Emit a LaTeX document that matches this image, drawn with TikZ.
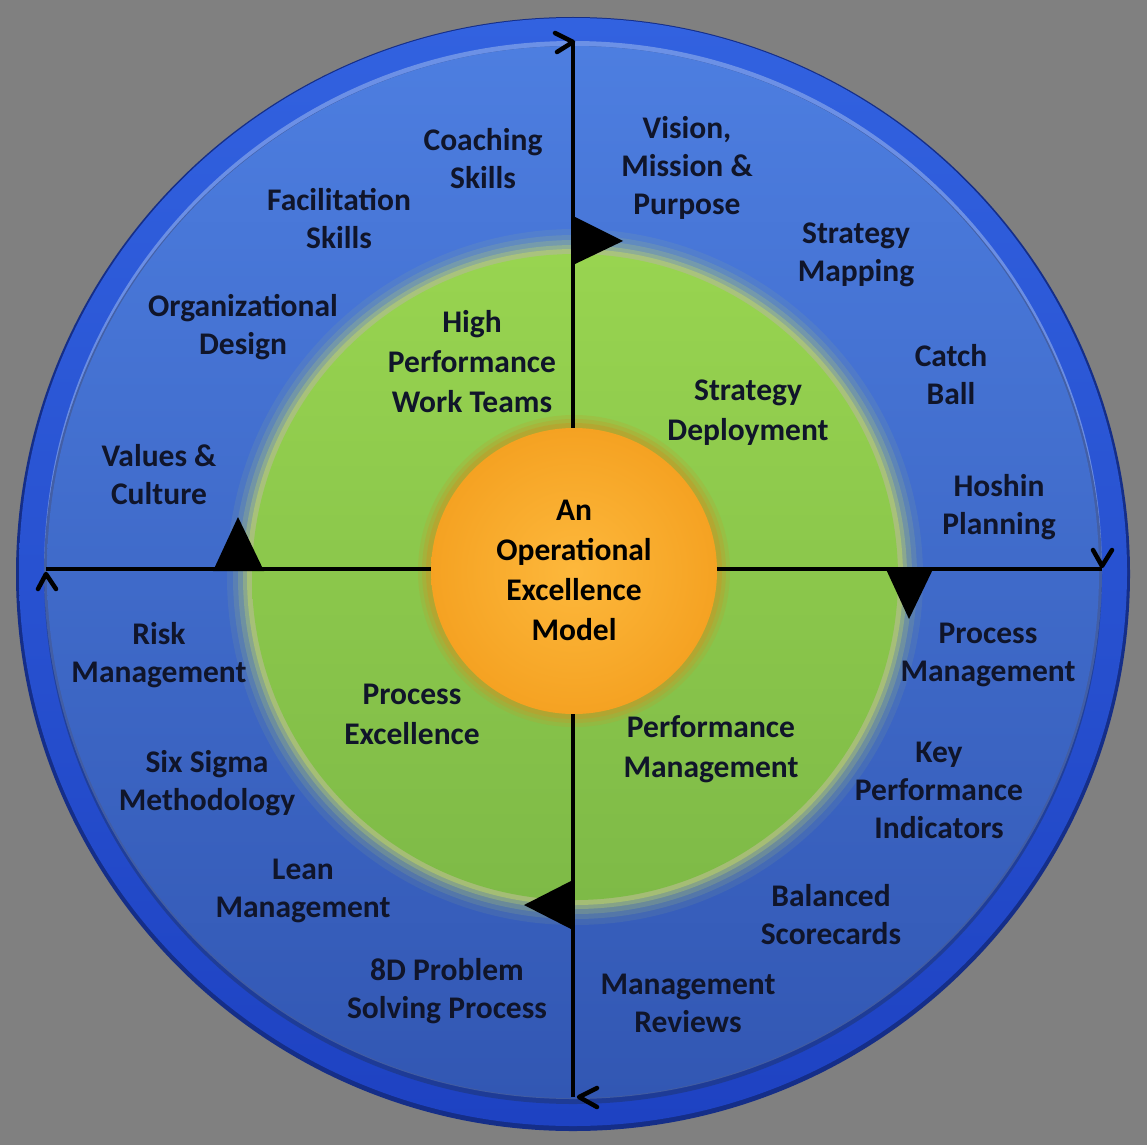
\documentclass[tikz,border=0pt]{standalone}
\usepackage{fontspec}
\setmainfont{Carlito}
\usetikzlibrary{calc}
\definecolor{bg}{HTML}{808080}
\definecolor{ringtop}{HTML}{3262E0}
\definecolor{ringbot}{HTML}{1E42C2}
\definecolor{disktop}{HTML}{4D7EE0}
\definecolor{diskbot}{HTML}{3257B3}
\definecolor{glow}{HTML}{D2E45A}
\definecolor{greentop}{HTML}{98D450}
\definecolor{greenbot}{HTML}{7EBA47}
\definecolor{orin}{HTML}{FDB83C}
\definecolor{orout}{HTML}{F5A222}
\definecolor{orrim}{HTML}{B9A22E}
\definecolor{ink}{HTML}{10152A}
\tikzset{
  lbl/.style={align=center, text=ink, font=\bfseries\fontsize{31.5}{38}\selectfont, inner sep=0pt},
  lblg/.style={align=center, text=ink, font=\bfseries\fontsize{31.5}{40}\selectfont, inner sep=0pt},
  axis/.style={line width=4.5pt, black},
  chev/.style={line width=4.5pt, black, line cap=round, line join=round},
  flag/.style={fill=black}
}
\begin{document}
\begin{tikzpicture}[x=1pt,y=-1pt]
\useasboundingbox (0,0) rectangle (1147,1145);
\fill[bg] (0,0) rectangle (1147,1145);
\coordinate (c) at (573,572);
% outer ring
\fill[ringbot!70!black] (573,574) circle (557);
\shade[top color=ringtop, bottom color=ringbot] (c) circle (554);
% inner disk
\fill[disktop!60!white, opacity=0.6] (573,570) circle (529);
\fill[diskbot!60!black, opacity=0.5] (573,575) circle (529);
\shade[top color=disktop, bottom color=diskbot] (c) circle (526);
% green glow
\foreach \r/\o in {348/0.08, 342/0.12, 337/0.18, 332/0.28, 328/0.4} {
  \fill[glow, opacity=\o] (575,577) circle (\r);
}
\shade[top color=greentop, bottom color=greenbot] (575,577) circle (323);
% orange
\foreach \r/\o in {156/0.25, 152/0.4, 148/0.7} {
  \fill[orrim, opacity=\o] (574,571) circle (\r);
}
\shade[inner color=orin, outer color=orout] (574,571) circle (143);
% axes
\coordinate (top) at (573,42);
\coordinate (bot) at (573,1097);
\coordinate (lft) at (46,569);
\coordinate (rgt) at (1102,569);
\draw[axis] (top) -- (573,428);
\draw[axis] (573,714) -- (bot);
\draw[axis] (lft) -- (431,569);
\draw[axis] (717,569) -- (rgt);
% chevrons
\draw[chev] ($(top)+(-18,-9)$) -- (top) -- ($(top)+(-16,10)$);
\draw[chev] ($(rgt)+(-9,-19)$) -- ($(rgt)+(0,-3)$) -- ($(rgt)+(10,-19)$);
\draw[chev] ($(bot)+(24,-9)$) -- ($(bot)+(6,0)$) -- ($(bot)+(24,10)$);
\draw[chev] ($(lft)+(-8,20)$) -- ($(lft)+(0,5)$) -- ($(lft)+(10,20)$);
% flags
\fill[flag] (575,217) -- (623,241) -- (575,264) -- cycle;
\fill[flag] (213,571) -- (238,517) -- (264,571) -- cycle;
\fill[flag] (885,567) -- (934,567) -- (909,619) -- cycle;
\fill[flag] (571,881) -- (524,905) -- (571,929) -- cycle;
% outer labels
\node[lbl] (l1) at (483,159) {Coaching\\Skills};
\node[lbl] (l2) at (339,219) {Facilitation\\Skills};
\node[lbl] (l3) at (243,327) {Organizational\\Design};
\node[lbl] (l4) at (159,475) {Values \&\\Culture};
\node[lbl] (l5) at (687,168) {Vision,\\Mission \&\\Purpose};
\node[lbl] (l6) at (856,255) {Strategy\\Mapping};
\node[lbl] (l7) at (951,375) {Catch\\Ball};
\node[lbl] (l8) at (999,507) {Hoshin\\Planning};
\node[lbl] (l9) at (988,655) {Process\\Management};
\node[lbl] (l10) at (939,790) {Key\\Performance\\Indicators};
\node[lbl] (l11) at (831,915) {Balanced\\Scorecards};
\node[lbl] (l12) at (688,1003) {Management\\Reviews};
\node[lbl] (l13) at (447,991) {8D Problem\\Solving Process};
\node[lbl] (l14) at (303,891) {Lean\\Management};
\node[lbl] (l15) at (207,783) {Six Sigma\\Methodology};
\node[lbl] (l16) at (159,655) {Risk\\Management};
% green labels
\node[lblg] (g1) at (472,362) {High\\Performance\\Work Teams};
\node[lblg] (g2) at (748,413) {Strategy\\Deployment};
\node[lblg] (g3) at (412,714) {Process\\Excellence};
\node[lblg] (g4) at (711,749) {Performance\\Management};
% centre
\node[lblg, text=black] (ctr) at (574,570) {An\\Operational\\Excellence\\Model};
\end{tikzpicture}
\end{document}
